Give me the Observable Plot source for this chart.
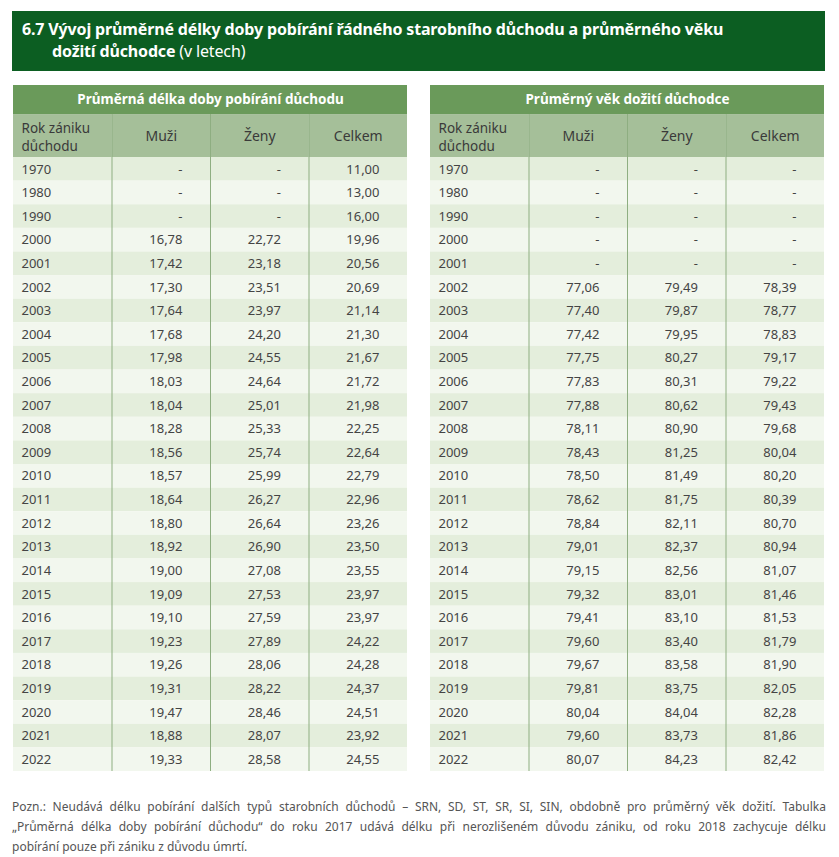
<!DOCTYPE html>
<html>
<head>
<meta charset="utf-8">
<script src="https://cdn.jsdelivr.net/npm/d3@7"></script>
<script src="https://cdn.jsdelivr.net/npm/@observablehq/plot@0.6"></script>
<style>
  html, body { margin: 0; padding: 0; background: #fff; }
  body { width: 839px; height: 857px; position: relative; font-family: "Noto Sans", sans-serif; }
  #title { position: absolute; left: 12px; top: 11px; width: 813px; height: 60px; background: #0c5e22; color: #fff;
           box-sizing: border-box; padding: 7px 0 0 10px; font-size: 16px; line-height: 22px; letter-spacing: -0.15px; }
  #title b { font-weight: 700; }
  #title .l2 { padding-left: 30px; }
  #chart { position: absolute; left: 0; top: 85px; }
  #note { position: absolute; left: 12px; top: 797px; width: 814px; font-size: 12px; line-height: 20px; color: #555; letter-spacing: 0px; }
  #note div { text-align: justify; text-align-last: justify; white-space: nowrap; }
  #note div.last { text-align-last: left; }
</style>
</head>
<body>
<div id="title"><div><b>6.7 Vývoj průměrné délky doby pobírání řádného starobního důchodu a průměrného věku</b></div><div class="l2"><b>dožití důchodce</b> (v letech)</div></div>
<div id="chart"></div>
<div id="note">
  <div>Pozn.: Neudává délku pobírání dalších typů starobních důchodů – SRN, SD, ST, SR, SI, SIN, obdobně pro průměrný věk dožití. Tabulka</div>
  <div>„Průměrná délka doby pobírání důchodu“ do roku 2017 udává délku při nerozlišeném důvodu zániku, od roku 2018 zachycuje délku</div>
  <div class="last">pobírání pouze při zániku z důvodu úmrtí.</div>
</div>
<script>
const tables = ["Průměrná délka doby pobírání důchodu", "Průměrný věk dožití důchodce"];
const columns = ["Rok zániku\ndůchodu", "Muži", "Ženy", "Celkem"];
const years = [1970, 1980, 1990, 2000, 2001, 2002, 2003, 2004, 2005, 2006, 2007, 2008, 2009, 2010, 2011, 2012, 2013, 2014, 2015, 2016, 2017, 2018, 2019, 2020, 2021, 2022];

const durationMen = [null, null, null, 16.78, 17.42, 17.30, 17.64, 17.68, 17.98, 18.03, 18.04, 18.28, 18.56, 18.57, 18.64, 18.80, 18.92, 19.00, 19.09, 19.10, 19.23, 19.26, 19.31, 19.47, 18.88, 19.33];
const durationWomen = [null, null, null, 22.72, 23.18, 23.51, 23.97, 24.20, 24.55, 24.64, 25.01, 25.33, 25.74, 25.99, 26.27, 26.64, 26.90, 27.08, 27.53, 27.59, 27.89, 28.06, 28.22, 28.46, 28.07, 28.58];
const durationTotal = [11.00, 13.00, 16.00, 19.96, 20.56, 20.69, 21.14, 21.30, 21.67, 21.72, 21.98, 22.25, 22.64, 22.79, 22.96, 23.26, 23.50, 23.55, 23.97, 23.97, 24.22, 24.28, 24.37, 24.51, 23.92, 24.55];

const ageMen = [null, null, null, null, null, 77.06, 77.40, 77.42, 77.75, 77.83, 77.88, 78.11, 78.43, 78.50, 78.62, 78.84, 79.01, 79.15, 79.32, 79.41, 79.60, 79.67, 79.81, 80.04, 79.60, 80.07];
const ageWomen = [null, null, null, null, null, 79.49, 79.87, 79.95, 80.27, 80.31, 80.62, 80.90, 81.25, 81.49, 81.75, 82.11, 82.37, 82.56, 83.01, 83.10, 83.40, 83.58, 83.75, 84.04, 83.73, 84.23];
const ageTotal = [null, null, null, null, null, 78.39, 78.77, 78.83, 79.17, 79.22, 79.43, 79.68, 80.04, 80.20, 80.39, 80.70, 80.94, 81.07, 81.46, 81.53, 81.79, 81.90, 82.05, 82.28, 81.86, 82.42];

// layout in row units
const GROUP_H = 1.23, HEAD_H = 1.82;
const HEAD_TOP = GROUP_H, DATA_TOP = GROUP_H + HEAD_H;
const TOTAL = DATA_TOP + years.length;
const nCols = columns.length;

const fmt = v => v == null ? "-" : v.toFixed(2).replace(".", ",");

const seriesByTable = [[durationMen, durationWomen, durationTotal], [ageMen, ageWomen, ageTotal]];

const groupRows = tables.map(t => ({table: t, x1: 0, x2: nCols, y1: 0, y2: GROUP_H}));
const headCells = tables.flatMap(t => columns.map((c, j) => ({table: t, label: c, col: j, y1: HEAD_TOP, y2: DATA_TOP})));
const dataRows = tables.flatMap(t => years.map((yr, i) => ({table: t, row: i, x1: 0, x2: nCols, y1: DATA_TOP + i, y2: DATA_TOP + i + 1})));
const cells = tables.flatMap((t, ti) => years.flatMap((yr, i) => [
  {table: t, col: 0, y: DATA_TOP + i + 0.5, text: String(yr)},
  ...seriesByTable[ti].map((s, j) => ({table: t, col: j + 1, y: DATA_TOP + i + 0.5, text: fmt(s[i])}))
]));
const dividers = tables.flatMap(t => d3.range(1, nCols).map(j => ({table: t, x: j})));

const chart = Plot.plot({
  width: 839,
  height: 686,
  marginLeft: 12,
  marginRight: 14,
  marginTop: 0,
  marginBottom: 0,
  fx: {domain: tables, paddingInner: 0.055, paddingOuter: 0, axis: null, label: null},
  x: {domain: [0, nCols], axis: null},
  y: {domain: [0, TOTAL], reverse: true, axis: null},
  style: {fontFamily: "'Noto Sans', sans-serif", background: "transparent"},
  marks: [
    Plot.rect(groupRows, {fx: "table", x1: "x1", x2: "x2", y1: "y1", y2: "y2", fill: "#6a9a5a"}),
    Plot.rect(headCells, {fx: "table", x1: "col", x2: d => d.col + 1, y1: "y1", y2: "y2", fill: "#a5bf99"}),
    Plot.rect(dataRows, {fx: "table", x1: "x1", x2: "x2", y1: "y1", y2: "y2", fill: d => d.row % 2 === 0 ? "#e4eedc" : "#f2f7ee"}),
    Plot.ruleX(dividers, {fx: "table", x: "x", y1: HEAD_TOP, y2: TOTAL, stroke: "#8eae81", strokeWidth: 1}),
    Plot.text(tables, {fx: d => d, y: GROUP_H / 2, text: d => d, fill: "#fff", fontWeight: "bold", fontSize: 13.5}),
    Plot.text(headCells.filter(d => d.col === 0), {fx: "table", x: "col", y: (HEAD_TOP + DATA_TOP) / 2,
      text: "label", dx: 8, textAnchor: "start", fill: "#3a3a3a", fontSize: 13.5, lineHeight: 1.32}),
    Plot.text(headCells.filter(d => d.col > 0), {fx: "table", x: d => d.col + 0.5, y: (HEAD_TOP + DATA_TOP) / 2,
      text: "label", textAnchor: "middle", fill: "#3a3a3a", fontSize: 14}),
    Plot.text(cells.filter(d => d.col === 0), {fx: "table", x: "col", y: "y", text: "text", dx: 8, textAnchor: "start", fill: "#444", fontSize: 13}),
    Plot.text(cells.filter(d => d.col > 0), {fx: "table", x: d => d.col + 1, y: "y", text: "text", dx: -28, textAnchor: "end", fill: "#444", fontSize: 13})
  ]
});
document.getElementById("chart").appendChild(chart);
</script>
</body>
</html>
